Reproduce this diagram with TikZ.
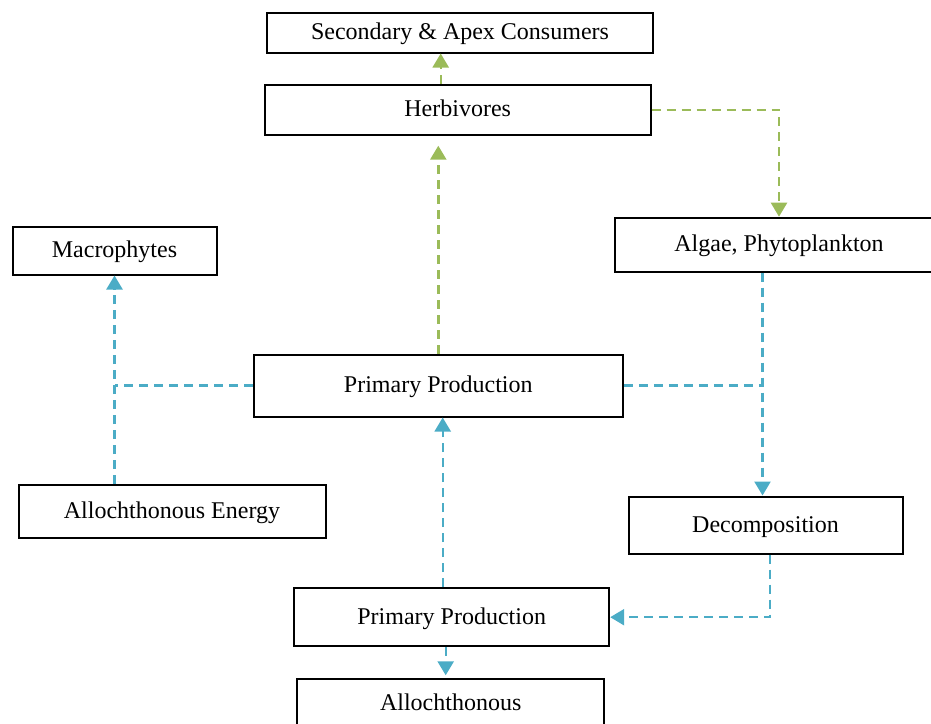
\documentclass[tikz,border=0pt]{standalone}
\usepackage{fontspec}
\setmainfont{Liberation Serif}
\usetikzlibrary{calc,arrows.meta}

\definecolor{leafgreen}{HTML}{9BBB59}
\definecolor{wateraqua}{HTML}{4BACC6}

\begin{document}
\begin{tikzpicture}[x=0.5pt, y=-0.5pt, line join=miter,
    box/.style={draw=black, line width=1pt, fill=white, inner sep=0pt,
        text height=9.5pt, text depth=2.5pt,
        font=\fontsize{12}{14}\selectfont},
    flow/.style={line width=1.2pt, dash pattern=on 4.5pt off 3pt,
        -{Triangle[width=8pt,length=7pt]}},
    gflow/.style={flow, leafgreen},
    bflow/.style={flow, wateraqua},
    bline/.style={line width=1.2pt, dash pattern=on 4.5pt off 3pt, wateraqua}]
    \useasboundingbox (0,0) rectangle (931,723);

    % boxes
    \node[box, minimum width=193pt, minimum height=20pt] (sec) at (460,32.5) {Secondary \& Apex Consumers};
    \node[box, minimum width=193pt, minimum height=25pt] (herb) at (457.7,109.7) {Herbivores};
    \node[box, minimum width=102pt, minimum height=24pt] (macro) at (114.5,250.5) {Macrophytes};
    \node[box, minimum width=164pt, minimum height=27pt] (algae) at (779,244.7) {Algae, Phytoplankton};
    \node[box, minimum width=184.5pt, minimum height=31pt] (pp1) at (438.3,385.5) {Primary Production};
    \node[box, minimum width=153.5pt, minimum height=26.5pt] (alloE) at (172,511.7) {Allochthonous Energy};
    \node[box, minimum width=137pt, minimum height=28.5pt] (decomp) at (765.5,525) {Decomposition};
    \node[box, minimum width=157.5pt, minimum height=29pt] (pp2) at (451.7,617.2) {Primary Production};
    \node[box, minimum width=153.5pt, minimum height=24pt] (allo) at (450.7,703.3) {Allochthonous};

    % green flows
    \coordinate (hu) at ($(herb.north)+(-17,0)$);
    \draw[gflow] (hu) -- (hu |- sec.south);
    \draw[gflow] (pp1.north) -- ($(herb.south -| pp1.north)+(0,10)$);
    \draw[gflow] (herb.east) -| (algae.north);

    % blue flows
    \coordinate (ad) at ($(algae.south)+(-16.5,0)$);
    \draw[bflow] (ad) -- (ad |- decomp.north);
    \draw[bline] (pp1.east) -- (pp1.east -| ad);
    \draw[bline] (pp1.west) -- (pp1.west -| macro.south);
    \draw[bflow] (macro.south |- alloE.north) -- (macro.south);
    \coordinate (pu) at ($(pp2.north)+(-9,0)$);
    \draw[bflow] (pu) -- (pu |- pp1.south);
    \draw[bflow] ($(decomp.south)+(4.5,0)$) |- (pp2.east);
    \coordinate (pd) at ($(pp2.south)+(-6,0)$);
    \draw[bflow] (pd) -- ($(pd |- allo.north)+(0,-3)$);
\end{tikzpicture}
\end{document}
